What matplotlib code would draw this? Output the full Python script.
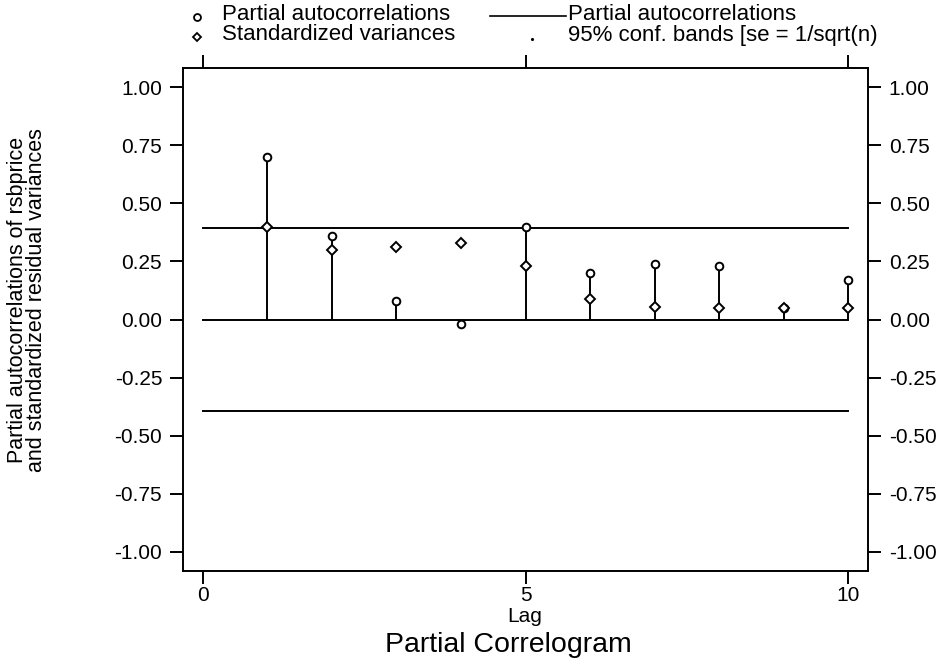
import matplotlib.pyplot as plt
from matplotlib.lines import Line2D
import numpy as np

plt.rcParams['font.family'] = ['Liberation Sans', 'DejaVu Sans']

# data
lags = [1, 2, 3, 4, 5, 6, 7, 8, 9, 10]
pac = [0.70, 0.36, 0.08, -0.02, 0.40, 0.20, 0.24, 0.23, 0.05, 0.17]
std_var = [0.40, 0.30, 0.31, 0.33, 0.23, 0.09, 0.055, 0.05, 0.05, 0.05]
band = 0.392  # 1.96 * se, se = 1/sqrt(n)
yticks = [1.0, 0.75, 0.5, 0.25, 0.0, -0.25, -0.5, -0.75, -1.0]
xticks = [0, 5, 10]

fig = plt.figure(figsize=(9.44, 6.66), dpi=100)
ax = fig.add_axes([183/944, 1 - 571/666, (868-183)/944, (571-68)/666])

# zero line and confidence bands
ax.plot([0, 10], [0, 0], color='black', lw=1.4)
ax.plot([0, 10], [band, band], color='black', lw=1.4)
ax.plot([0, 10], [-band, -band], color='black', lw=1.4)

# stems
ax.vlines(lags, 0, pac, color='black', lw=1.4)
ax.plot(lags, pac, 'o', ms=5.5, mfc='white', mec='black', mew=1.4)
ax.plot(lags, std_var, 'D', ms=5, mfc='white', mec='black', mew=1.4)

ax.set_xlim(-0.31, 10.31)
ax.set_ylim(-1.082, 1.082)
ax.set_xticks(xticks)
ax.set_yticks(yticks)
ax.set_yticklabels(['%.2f' % v for v in yticks])
ax.tick_params(axis='both', direction='out', length=9.5, width=1.4,
               labelsize=15, top=True, right=True, labelright=True)
ax.tick_params(axis='y', pad=5.5)
ax.tick_params(axis='x', pad=1.5)
for s in ax.spines.values():
    s.set_linewidth(1.4)

fig.text(525/944, 1 - 622/666, 'Lag', fontsize=15, ha='center', va='baseline')
fig.text(27/944, 1 - 300/666,
         'Partial autocorrelations of rsbprice\nand standardized residual variances',
         fontsize=15.5, rotation=90, ha='center', va='center', linespacing=0.85)
fig.text(508/944, 1 - 652/666, 'Partial Correlogram', fontsize=20.5,
         ha='center', va='baseline')

# legend drawn above the plot
fig.add_artist(Line2D([197/944], [1 - 17/666], marker='o', ms=5, mfc='white',
                      mec='black', mew=1.3, ls='none'))
fig.add_artist(Line2D([197/944], [1 - 37/666], marker='D', ms=4.5, mfc='white',
                      mec='black', mew=1.3, ls='none'))
fig.add_artist(Line2D([490/944, 566/944], [1 - 16/666, 1 - 16/666],
                      color='black', lw=1.2))
fig.add_artist(Line2D([532/944], [1 - 39/666], marker='.', ms=2.5, color='black',
                      ls='none'))
fig.text(222/944, 1 - 14/666, 'Partial autocorrelations', fontsize=16, va='center')
fig.text(222/944, 1 - 35/666, 'Standardized variances', fontsize=16, va='center')
fig.text(568/944, 1 - 14/666, 'Partial autocorrelations', fontsize=16, va='center')
fig.text(568/944, 1 - 35/666, '95% conf. bands [se = 1/sqrt(n)', fontsize=16, va='center')

fig.savefig('out.png', dpi=100)
